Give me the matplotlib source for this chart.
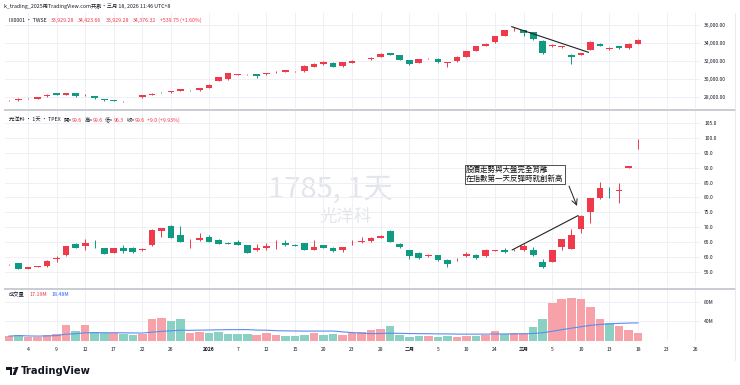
import numpy as np
import pandas as pd
import matplotlib.pyplot as plt
from matplotlib.lines import Line2D
from matplotlib.patches import Polygon, Circle

plt.rcParams['font.family'] = ['Noto Sans CJK TC', 'DejaVu Sans']

W, H = 740, 385
UP = '#ef3a4c'
DOWN = '#109a82'
UP_VOL = '#f7a1a9'
DOWN_VOL = '#8ad0c3'
TXT = '#131722'
GRID = '#eef0f5'

# trading-day index, 0 = Dec 4
bars = np.arange(-2, 65)
tick_pos = [0, 3, 6, 9, 12, 15, 19, 22, 25, 28, 31, 34, 37, 40, 43, 46, 49, 52, 55, 58, 61, 64, 67, 70]
tick_labels = ['4', '9', '12', '17', '22', '26', '2026', '7', '12', '15', '20', '23',
               '28', '二月', '5', '10', '24', '三月', '5', '10', '13', '18', '23', '26']

# IX0001 TWSE
tw_open = [27650, 27633, 27800, 27811, 28078, 28411, 28256, 28478, 28180, 28111, 27778, 27650,
           27540, 27760, 27967, 28256, 28500, 28522, 28700, 28800, 28744, 29033, 29811, 29967,
           30500, 30430, 30522, 30522, 30740, 30778, 30856, 30856, 31367, 31633, 31811, 31411,
           31811, 32090, 32189, 32478, 32889, 32633, 32078, 31778, 32280, 32256, 31811, 31967,
           32478, 33144, 33700, 34078, 34778, 35540, 35411, 35189, 34256, 33633, 33522, 32700,
           32700, 33222, 33889, 33300, 33633, 33411, 33929.28]
tw_high = [27720, 27850, 27870, 28030, 28290, 28440, 28470, 28500, 28280, 28150, 27800, 27680,
           27600, 27830, 28220, 28400, 28540, 28660, 28880, 28830, 29030, 29400, 30250, 30680,
           30600, 30520, 30560, 30660, 30900, 31030, 30930, 31520, 31740, 31950, 31850, 31890,
           32070, 32150, 32400, 32850, 32930, 32660, 32110, 32260, 32350, 32290, 31870, 32550,
           33150, 33700, 34050, 34810, 35480, 35811, 35440, 35220, 34290, 33850, 33660, 32730,
           32920, 34200, 34000, 33520, 33700, 34000, 34423.66]
tw_low = [27600, 27600, 27760, 27790, 28050, 28230, 28230, 28050, 28150, 27800, 27600, 27530,
          27500, 27730, 27940, 28230, 28440, 28500, 28680, 28720, 28720, 29000, 29780, 29940,
          30460, 30400, 30111, 30500, 30700, 30750, 30820, 30830, 31340, 31550, 31280, 31380,
          31790, 32070, 32160, 32450, 32640, 32110, 31520, 31750, 32250, 31830, 31350, 31940,
          32450, 33120, 33680, 34050, 34750, 35333, 34778, 34380, 32830, 33600, 33400, 31633,
          32680, 33200, 33640, 33250, 33380, 33380, 33929.28]
tw_close = [27680, 27811, 27820, 28000, 28256, 28256, 28444, 28078, 28240, 27889, 27633, 27556,
            27560, 27790, 28189, 28367, 28470, 28633, 28856, 28760, 29000, 29367, 30189, 30633,
            30540, 30460, 30333, 30633, 30790, 31000, 30900, 31478, 31700, 31856, 31300, 31856,
            32033, 32120, 32367, 32811, 32667, 32144, 31667, 32222, 32310, 31856, 31850, 32478,
            33111, 33667, 33889, 34778, 35444, 35560, 35144, 34411, 32856, 33778, 33633, 32411,
            32889, 34111, 33667, 33478, 33411, 33856, 34376.32]

# 1785 光洋科 TPEX
gy_open = [57.5, 57.9, 56.1, 56.6, 56.9, 59.5, 60.6, 64.4, 63.7, 64.4, 63.0, 61.5, 62.9, 63.1,
           62.2, 63.9, 68.8, 70.4, 67.4, 65.7, 65.8, 66.7, 65.8, 64.7, 65.2, 64.1, 62.4, 63.1,
           64.3, 64.7, 64.2, 64.6, 62.5, 63.9, 63.1, 62.4, 64.4, 64.9, 65.4, 66.5, 68.6, 64.5,
           62.2, 61.5, 60.3, 60.6, 59.0, 59.2, 60.2, 60.7, 60.2, 62.1, 62.5, 62.2, 62.2, 62.2,
           58.5, 58.3, 63.3, 62.8, 69.5, 75.0, 79.7, 82.2, 82.2, 89.9, 99.6]
gy_high = [57.8, 58.0, 56.7, 57.1, 59.0, 60.5, 63.8, 64.6, 66.1, 65.6, 63.2, 63.0, 64.0, 63.3,
           63.0, 69.3, 69.7, 70.6, 70.3, 65.9, 68.1, 67.5, 66.0, 64.9, 65.8, 64.2, 64.4, 64.8,
           65.6, 65.6, 64.4, 64.8, 65.7, 64.1, 63.3, 63.5, 65.8, 66.9, 66.7, 67.3, 69.2, 64.7,
           62.4, 61.7, 60.9, 60.8, 59.2, 59.6, 61.7, 60.9, 62.6, 62.4, 63.0, 62.6, 64.4, 63.3,
           59.3, 62.3, 66.2, 69.4, 74.0, 79.8, 85.3, 83.5, 85.0, 90.6, 99.6]
gy_low = [57.4, 56.0, 56.0, 56.5, 56.8, 58.4, 60.5, 63.0, 62.4, 63.1, 60.9, 61.3, 61.5, 61.5,
          62.0, 63.8, 66.9, 66.3, 65.0, 63.2, 65.5, 65.0, 64.4, 64.3, 64.0, 61.4, 61.9, 62.5,
          62.8, 63.8, 63.6, 62.4, 62.3, 63.0, 61.8, 61.8, 63.9, 64.8, 65.2, 66.3, 65.0, 63.2,
          59.3, 59.5, 60.1, 58.8, 56.8, 58.6, 60.0, 59.5, 60.0, 61.9, 61.4, 61.9, 62.0, 60.3,
          56.4, 58.2, 62.4, 62.6, 68.1, 71.5, 79.5, 79.9, 78.2, 89.8, 96.3]
gy_close = [57.6, 56.1, 56.6, 57.0, 58.8, 59.6, 63.6, 63.1, 64.6, 64.3, 61.0, 62.9, 61.9, 61.7,
            62.8, 69.1, 69.6, 66.4, 65.2, 65.8, 66.3, 65.2, 64.5, 64.4, 64.2, 61.5, 63.0, 63.8,
            64.4, 63.9, 63.7, 62.5, 63.4, 63.1, 61.9, 63.3, 64.5, 65.5, 66.3, 67.1, 65.2, 63.4,
            60.4, 59.7, 60.8, 59.0, 57.8, 59.4, 61.1, 59.7, 62.2, 62.2, 61.7, 62.3, 63.8, 60.6,
            56.6, 62.2, 66.1, 67.5, 73.9, 79.7, 83.3, 82.1, 82.4, 90.6, 99.6]

# volume, millions of shares
gy_vol = [10, 12, 9, 9, 12, 14, 32, 20, 33, 18, 16, 17, 15, 12, 14, 45, 46, 40, 44, 17, 19,
          16, 18, 15, 14, 14, 12, 16, 13, 11, 10, 13, 16, 12, 15, 12, 16, 18, 22, 24, 30, 12,
          9, 11, 10, 8, 11, 9, 10, 11, 12, 20, 14, 17, 16, 28, 45, 78, 85, 88, 86, 70, 44,
          36, 30, 22, 17.19]

# drawn trend lines (bar index, price)
tw_line = [(50.75, 35811), (58.8, 32967)]
gy_line = [(50.8, 62.4), (57.7, 73.9)]
gy_arrow = [(56.65, 84.7), (57.7, 76.3)]
note = '股價走勢與大盤完全背離\n在指數第一天反彈時就創新高'


def rect(x0, y0, x1, y1):
    return [x0 / W, 1 - y1 / H, (x1 - x0) / W, (y1 - y0) / H]


fig = plt.figure(figsize=(W / 100, H / 100), dpi=100)
fig.patch.set_facecolor('white')
ax1 = fig.add_axes(rect(5, 13, 700, 108))
ax2 = fig.add_axes(rect(5, 111, 700, 287))
ax3 = fig.add_axes(rect(5, 290, 700, 341))


def candles(ax, o, h, l, c, tick):
    o, h, l, c = map(np.asarray, (o, h, l, c))
    col = np.where(c >= o, UP, DOWN)
    ax.vlines(bars, l, h, colors=col, lw=0.7, zorder=2)
    body = np.maximum(np.abs(c - o), tick)
    ax.bar(bars, body, bottom=np.minimum(o, c), width=0.7, color=col, lw=0, zorder=3)


def style(ax, yticks, ylabels, ylim):
    ax.set_xlim(-2.41, 70.5)
    ax.set_ylim(*ylim)
    for s in ax.spines.values():
        s.set_visible(False)
    ax.set_xticks(tick_pos)
    ax.set_xticklabels([])
    ax.yaxis.tick_right()
    ax.set_yticks(yticks)
    ax.set_yticklabels(ylabels)
    ax.tick_params(length=0, labelsize=3.6, labelcolor=TXT, pad=3)
    ax.tick_params(axis='x', pad=4)
    ax.grid(True, color=GRID, lw=0.7, zorder=0)
    ax.set_axisbelow(True)


candles(ax1, tw_open, tw_high, tw_low, tw_close, 25)
tw_ticks = [28000, 30000, 32000, 34000, 36000]
style(ax1, tw_ticks, [f'{v:,.2f}' for v in tw_ticks], (26778, 37333))
ax1.plot(*zip(*tw_line), color='#222222', lw=0.8, zorder=4)

candles(ax2, gy_open, gy_high, gy_low, gy_close, 0.12)
gy_ticks = [55, 60, 65, 70, 75, 80, 85, 90, 95, 100, 105]
style(ax2, gy_ticks, [f'{v:.1f}' for v in gy_ticks], (49.94, 109.05))
ax2.plot(*zip(*gy_line), color='#222222', lw=0.8, zorder=4)
ax2.annotate('', xy=gy_arrow[1], xytext=gy_arrow[0],
             arrowprops=dict(arrowstyle='->', color='#222222', lw=0.7), zorder=5)

vcol = np.where(np.asarray(gy_close) >= np.asarray(gy_open), UP_VOL, DOWN_VOL)
ax3.bar(bars, gy_vol, width=0.9, color=vcol, lw=0, zorder=2)
vol_ma = pd.Series(gy_vol).rolling(20, min_periods=1).mean()
ax3.plot(bars, vol_ma, color='#5b8cf0', lw=0.8, zorder=3)
style(ax3, [40, 80], ['40M', '80M'], (0, 104))
ax3.set_xticklabels(tick_labels)
for lab, txt in zip(ax3.get_xticklabels(), tick_labels):
    if txt in ('2026', '二月', '三月'):
        lab.set_fontweight('bold')

# watermark
ax2.text(330 / W, 1 - 190 / H, '1785, 1天', transform=fig.transFigure, fontsize=21,
         color='#e3e5eb', ha='center', va='center', zorder=0)
ax2.text(345 / W, 1 - 217 / H, '光洋科', transform=fig.transFigure, fontsize=12.5,
         color='#e3e5eb', ha='center', va='center', zorder=0)

# note box
fig.text(466 / W, 1 - 174.5 / H, note, fontsize=5.4, color='#111111', ha='left', va='center',
         linespacing=1.05, zorder=6,
         bbox=dict(boxstyle='square,pad=0.18', fc='white', ec='#333333', lw=0.6))

# separators and frame
for y in (109.5, 288.5):
    fig.add_artist(Line2D([5 / W, 735 / W], [1 - y / H, 1 - y / H], color='#c9ccd3', lw=1.4))
fig.add_artist(Line2D([735 / W, 735 / W], [1 - 360 / H, 1 - 13 / H], color='#e6e8ee', lw=0.6))

renderer = fig.canvas.get_renderer()


def pieces(x, y, parts, size):
    # parts: (text, colour, gap after in px)
    for s, col, gap in parts:
        t = fig.text(x / W, 1 - y / H, s, color=col, fontsize=size, ha='left', va='center')
        x += t.get_window_extent(renderer=renderer).width + gap


RED = '#f23645'
pieces(4, 6.5, [('k_trading_2025用TradingView.com共創・三月 18, 2026 11:46 UTC+8', TXT, 0)], 3.8)
pieces(9, 20, [('IX0001 · TWSE', TXT, 4), ('33,929.28', RED, 4), ('34,423.66', RED, 4),
               ('33,929.28', RED, 4), ('34,376.32', RED, 4), ('+539.75 (+1.60%)', RED, 0)], 3.8)
pieces(9, 120.5, [('光洋科 · 1天 · TPEX', TXT, 2.5), ('開=', TXT, 0.3), ('99.6', RED, 2.5),
                  ('高=', TXT, 0.3), ('99.6', RED, 2.5), ('低=', TXT, 0.3), ('96.3', RED, 2.5),
                  ('收=', TXT, 0.3), ('99.6', RED, 2.5), ('+9.0 (+9.93%)', RED, 0)], 3.8)
pieces(9, 295, [('成交量', TXT, 5), ('17.19M', RED, 4), ('18.48M', '#2962ff', 0)], 3.8)

# TradingView logo
fig.add_artist(Polygon([[6 / W, 1 - 367 / H], [12 / W, 1 - 367 / H], [12 / W, 1 - 375 / H],
                        [9.5 / W, 1 - 375 / H], [9.5 / W, 1 - 369.5 / H], [6 / W, 1 - 369.5 / H]],
                       closed=True, fc='#131722', ec='none'))
fig.add_artist(Circle((13.8 / W, 1 - 368.3 / H), 1.3 / W, fc='#131722', ec='none'))
fig.add_artist(Polygon([[15.5 / W, 1 - 367 / H], [18.5 / W, 1 - 367 / H], [15.5 / W, 1 - 375 / H],
                        [12.5 / W, 1 - 375 / H]], closed=True, fc='#131722', ec='none'))
fig.text(21 / W, 1 - 371 / H, 'TradingView', fontsize=7.2, fontweight='bold', color='#131722',
         family='DejaVu Sans', ha='left', va='center')

fig.savefig('out.png', dpi=100)
